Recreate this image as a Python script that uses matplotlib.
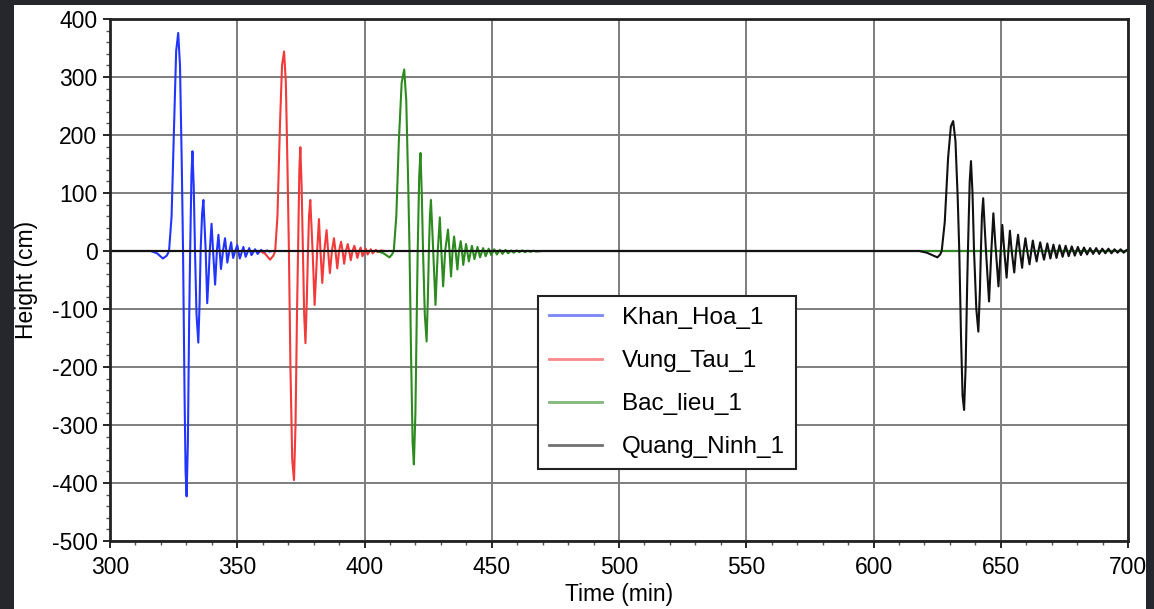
import matplotlib
matplotlib.use("Agg")
import matplotlib.pyplot as plt
from matplotlib.ticker import MultipleLocator
from matplotlib.patches import Rectangle

plt.rcParams['font.family'] = ['Liberation Sans', 'DejaVu Sans']
plt.rcParams['axes.unicode_minus'] = False

# --- data ---
series_names = ["Khan_Hoa_1", "Vung_Tau_1", "Bac_lieu_1", "Quang_Ninh_1"]
series_colors = ["#2235ff", "#f23a3a", "#2c8a1e", "#111111"]

khan_hoa_t = [300, 316, 318.5, 320.8, 322.3, 323.2, 324.2, 325.2, 326.0, 326.8, 327.5, 328.2,
              328.7, 329.3, 329.7, 330.1, 330.6, 331.1, 331.5, 332.0, 332.4, 332.9, 333.4,
              334.0, 334.7, 335.2, 335.6, 336.2, 336.7, 337.2, 337.6, 338.2, 338.8, 339.2,
              339.9, 340.5, 341.3, 342.0, 342.6, 343.1, 343.6, 344.4, 345.2, 345.7, 346.1,
              346.9, 347.6, 348.0, 348.4, 349.2, 350.0, 351.0, 352.4, 353.3, 354.7, 355.6,
              357.0, 358.0, 359.4, 360.3, 361.7, 362.6, 364.0, 700]
khan_hoa_h = [0, 0, -4, -13, -8, 0, 60, 220, 345, 376, 320, 150,
              0, -250, -380, -423, -330, -120, 0, 130, 172, 110, 0,
              -110, -158, -90, 0, 65, 88, 40, 0, -90, -40, 0,
              47, 0, -58, 0, 28, 0, -31, 0, 22, 0, -20,
              0, 15, 0, -12, 0, 10, -13, 7, -10, 5, -7,
              3, -5, 2, -3, 1, -1, 0, 0]

vung_tau_t = [300, 359, 361, 362.9, 364.2, 364.9, 365.8, 366.8, 367.6, 368.4, 369.1, 369.8,
              370.3, 370.9, 371.6, 372.3, 372.9, 373.5, 373.9, 374.4, 374.8, 375.3, 375.8,
              376.3, 376.8, 377.3, 377.8, 378.2, 378.7, 379.2, 379.6, 380.4, 381.1, 381.4,
              382.1, 382.7, 383.4, 384.2, 385.1, 385.7, 386.4, 387.2, 388.0, 388.6, 389.3,
              390.0, 390.8, 391.4, 392.0, 392.7, 393.4, 394.0, 394.6, 395.3, 396.0, 396.6,
              397.2, 397.9, 398.5, 399.2, 400.5, 401.2, 402.5, 403.2, 404.5, 405.2, 406.5,
              408, 700]
vung_tau_h = [0, 0, -5, -15, -8, 0, 60, 220, 320, 344, 290, 130,
              0, -200, -360, -395, -300, -100, 0, 140, 179, 110, 0,
              -110, -159, -90, 0, 60, 88, 40, 0, -93, -30, 0,
              55, 0, -55, 0, 36, 0, -38, 0, 22, 0, -30,
              0, 16, 0, -22, 0, 12, 0, -16, 0, 9, 0,
              -12, 0, 6, -9, 4, -6, 3, -4, 2, -2, 1,
              0, 0]

bac_lieu_t = [300, 405, 407.5, 409.8, 410.8, 411.5, 412.5, 413.5, 414.6, 415.6, 416.4, 417.2,
              417.7, 418.3, 418.9, 419.4, 420.0, 420.6, 420.9, 421.5, 422.0, 422.5, 423.0,
              423.7, 424.4, 424.9, 425.3, 425.7, 426.1, 426.6, 427.0, 427.9, 428.5, 428.8,
              429.6, 430.2, 430.9, 431.7, 432.8, 433.4, 434.0, 434.6, 435.2, 435.8, 436.5,
              437.1, 437.8, 438.3, 438.8, 439.9, 441.0, 442.2, 443.2, 444.4, 445.4, 446.6,
              447.6, 448.8, 449.8, 451.0, 452.0, 453.2, 454.2, 455.4, 456.4, 457.6, 458.6,
              459.8, 460.8, 462.0, 463.0, 464.2, 465.2, 466.4, 467.4, 470, 700]
bac_lieu_h = [0, 0, -4, -11, -6, 0, 60, 190, 290, 313, 260, 110,
              0, -180, -330, -368, -280, -90, 0, 130, 169, 100, 0,
              -110, -156, -80, 0, 60, 88, 40, 0, -93, -30, 0,
              58, 0, -61, 0, 37, 0, -44, 0, 25, 0, -32,
              0, 17, 0, -24, 12, -18, 9, -14, 7, -11, 5,
              -9, 4, -7, 3, -6, 2, -5, 2, -4, 1, -3,
              1, -2, 1, -2, 0.5, -1.5, 0.5, -1, 0, 0]

quang_ninh_t = [300, 618, 621, 625.1, 626.2, 626.8, 628.0, 629.3, 630.4, 631.3, 632.2, 633.1,
                633.7, 634.4, 635.0, 635.6, 636.2, 636.8, 637.1, 637.8, 638.3, 638.9, 639.5,
                640.4, 641.2, 641.8, 642.2, 642.6, 643.1, 643.7, 644.2, 645.4, 646.1, 646.3,
                647.1, 647.9, 648.1, 649.1, 649.9, 650.0, 650.6, 651.4, 652.3, 653.0, 653.6,
                654.3, 655.3, 656.0, 656.8, 657.5, 658.4, 659.0, 659.7, 660.4, 661.3, 662.0,
                662.6, 663.3, 664.1, 664.8, 665.5, 666.2, 667.0, 668.3, 669.5, 670.7, 671.9,
                673.1, 674.3, 675.5, 676.7, 677.9, 679.1, 680.3, 681.5, 682.7, 683.9, 685.1,
                686.3, 687.5, 688.7, 689.9, 691.1, 692.3, 693.5, 694.7, 695.9, 697.1, 698.3,
                699.5, 700]
quang_ninh_h = [0, 0, -3, -11, -6, 0, 50, 160, 215, 224, 190, 90,
                0, -150, -250, -274, -200, -60, 0, 120, 155, 100, 0,
                -100, -139, -70, 0, 60, 91, 40, 0, -87, -20, 0,
                65, 10, 0, -61, -5, 0, 45, 0, -46, 0, 35,
                0, -37, 0, 28, 0, -29, 0, 22, 0, -23, 0,
                18, 0, -18, 0, 15, 0, -15, 13, -13, 11, -12,
                10, -10, 9, -9, 8, -8, 7, -7, 6, -6, 5,
                -5, 5, -5, 4, -4, 4, -4, 3, -3, 3, -3,
                2, 0]

series_t = [khan_hoa_t, vung_tau_t, bac_lieu_t, quang_ninh_t]
series_h = [khan_hoa_h, vung_tau_h, bac_lieu_h, quang_ninh_h]

x_ticks = [300, 350, 400, 450, 500, 550, 600, 650, 700]
y_ticks = [-500, -400, -300, -200, -100, 0, 100, 200, 300, 400]

# --- figure ---
fig = plt.figure(figsize=(11.54, 6.09), dpi=100, facecolor="#25272d")
# white page of the screenshot, kept behind the axes
page = Rectangle((14 / 1154, 0), (1146 - 14) / 1154, 1 - 5 / 609,
                 transform=fig.transFigure, facecolor="white",
                 edgecolor="none", zorder=-10)
fig.patches.append(page)

ax = fig.add_axes([110 / 1154, (609 - 541) / 609, 1018 / 1154, 522 / 609])
ax.set_zorder(1)
ax.set_facecolor("white")

for t, h, name, c in zip(series_t, series_h, series_names, series_colors):
    ax.plot(t, h, color=c, lw=1.5, label=name)

ax.set_xlim(300, 700)
ax.set_ylim(-500, 400)
ax.set_xticks(x_ticks)
ax.set_yticks(y_ticks)
ax.xaxis.set_minor_locator(MultipleLocator(10))
ax.yaxis.set_minor_locator(MultipleLocator(20))
ax.tick_params(which="major", direction="out", length=5, width=1.2, labelsize=16.5,
               colors="black")
ax.tick_params(axis="x", which="major", pad=6)
ax.tick_params(axis="y", which="major", pad=4)
ax.tick_params(which="minor", direction="out", length=3, width=1.0, colors="#555555")
ax.grid(True, which="major", color="#7d7d7d", lw=1.4)
ax.set_axisbelow(True)
for s in ax.spines.values():
    s.set_linewidth(2)
    s.set_color("#222222")

ax.set_xlabel("Time (min)", fontsize=16.5, labelpad=3)
ax.set_ylabel("Height (cm)", fontsize=16.5, labelpad=10)

leg = ax.legend(loc="upper left", bbox_to_anchor=(0.4204, 0.4693), borderaxespad=0,
                fontsize=17.5, frameon=True, fancybox=False, framealpha=1,
                edgecolor="#222222", handlelength=2.2, handletextpad=0.82,
                labelspacing=0.87, borderpad=0.45)
leg.get_frame().set_linewidth(1.5)
for line in leg.get_lines():
    line.set_alpha(0.6)
    line.set_linewidth(2)

fig.savefig("out.png", dpi=100, facecolor=fig.get_facecolor())
